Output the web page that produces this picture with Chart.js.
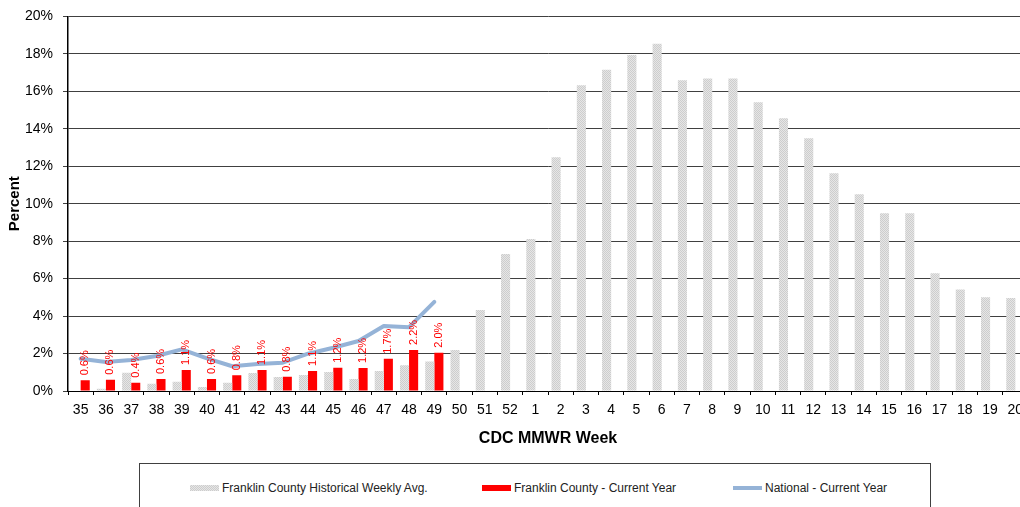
<!DOCTYPE html>
<html lang="en">
<head>
    <meta charset="UTF-8">
    <title>Franklin County ILI by CDC MMWR Week</title>
    <script src="https://cdn.jsdelivr.net/npm/chart.js"></script>
    <style>
        body {
            margin: 0;
            padding: 0;
            background-color: #fff;
            width: 1020px;
            height: 507px;
            overflow: hidden;
            position: relative;
            font-family: "Liberation Sans", Arial, sans-serif;
        }

        #chart {
            position: absolute;
            left: 0;
            top: -2px;
        }

        .legend {
            position: absolute;
            left: 139px;
            top: 463px;
            width: 792px;
            height: 60px;
            border: 1px solid #404040;
            box-sizing: border-box;
        }

        .legend .item {
            position: absolute;
            top: 17px;
            font-size: 12px;
            color: #222;
            white-space: nowrap;
            display: flex;
            align-items: center;
        }

        .legend .swatch {
            display: inline-block;
            width: 29px;
            margin-right: 3px;
        }

        .sw-hist {
            height: 6px;
            background: repeating-conic-gradient(#cdcdcd 0 25%, #e6e6e6 0 50%) 0 0 / 2px 2px;
        }

        .sw-cur {
            height: 6px;
            background: #ff0000;
        }

        .sw-nat {
            height: 4px;
            background: #95b3d7;
        }
    </style>
</head>
<body>
    <canvas id="chart" width="1034" height="458"></canvas>

    <div class="legend">
        <div class="item" style="left: 50px;"><span class="swatch sw-hist"></span>Franklin County Historical Weekly Avg.</div>
        <div class="item" style="left: 342px;"><span class="swatch sw-cur"></span>Franklin County - Current Year</div>
        <div class="item" style="left: 593px;"><span class="swatch sw-nat"></span>National - Current Year</div>
    </div>

    <script>
        // CDC MMWR weeks, week 35 through week 20 of the next year
        const weeks = ['35', '36', '37', '38', '39', '40', '41', '42', '43', '44', '45', '46', '47', '48', '49', '50', '51', '52',
                       '1', '2', '3', '4', '5', '6', '7', '8', '9', '10', '11', '12', '13', '14', '15', '16', '17', '18', '19', '20'];

        // Franklin County historical weekly average (%)
        const historical = [0.0, 0.12, 0.98, 0.39, 0.50, 0.21, 0.44, 0.96, 0.75, 0.85, 1.01, 0.64, 1.07, 1.37, 1.58, 2.19, 4.32, 7.31,
                            8.11, 12.48, 16.32, 17.15, 17.94, 18.54, 16.59, 16.69, 16.69, 15.41, 14.56, 13.49, 11.63, 10.51, 9.49, 9.49, 6.29, 5.42, 5.01, 4.96];

        // Franklin County current year (%), reported through week 49
        const currentYear = [0.57, 0.60, 0.44, 0.64, 1.12, 0.64, 0.84, 1.12, 0.76, 1.07, 1.24, 1.23, 1.72, 2.19, 2.04];

        // National current year (%)
        const national = [1.72, 1.55, 1.65, 1.87, 2.22, 1.74, 1.32, 1.44, 1.51, 1.99, 2.31, 2.67, 3.47, 3.41, 4.76];

        const yTicks = [0, 2, 4, 6, 8, 10, 12, 14, 16, 18, 20];

        const fontFamily = '"Liberation Sans", Arial, sans-serif';

        // dotted light gray fill like the spreadsheet pattern
        function makePattern() {
            const p = document.createElement('canvas');
            p.width = 2;
            p.height = 2;
            const pc = p.getContext('2d');
            pc.fillStyle = '#e6e6e6';
            pc.fillRect(0, 0, 2, 2);
            pc.fillStyle = '#cdcdcd';
            pc.fillRect(0, 0, 1, 1);
            pc.fillRect(1, 1, 1, 1);
            return pc.createPattern(p, 'repeat');
        }

        // vertical red percent labels above the current year bars
        const barLabels = {
            id: 'barLabels',
            afterDatasetsDraw(chart) {
                const ctx = chart.ctx;
                const meta = chart.getDatasetMeta(1);
                ctx.save();
                ctx.fillStyle = '#ff0000';
                ctx.font = '11px ' + fontFamily;
                ctx.textAlign = 'left';
                ctx.textBaseline = 'middle';
                meta.data.forEach((bar, i) => {
                    const v = currentYear[i];
                    if (v == null) return;
                    ctx.save();
                    ctx.translate(bar.x, bar.y - 5);
                    ctx.rotate(-Math.PI / 2);
                    ctx.fillText(v.toFixed(1) + '%', 0, 0);
                    ctx.restore();
                });
                ctx.restore();
            }
        };

        const ctx = document.getElementById('chart').getContext('2d');

        new Chart(ctx, {
            type: 'bar',
            data: {
                labels: weeks,
                datasets: [
                    {
                        label: 'Franklin County Historical Weekly Avg.',
                        data: historical,
                        backgroundColor: makePattern(),
                        categoryPercentage: 0.72,
                        barPercentage: 1.0,
                        order: 2
                    },
                    {
                        label: 'Franklin County - Current Year',
                        data: currentYear,
                        backgroundColor: '#ff0000',
                        categoryPercentage: 0.72,
                        barPercentage: 1.0,
                        order: 2
                    },
                    {
                        type: 'line',
                        label: 'National - Current Year',
                        data: national,
                        borderColor: '#95b3d7',
                        borderWidth: 4,
                        borderCapStyle: 'round',
                        borderJoinStyle: 'round',
                        pointRadius: 0,
                        tension: 0,
                        fill: false,
                        order: 1
                    }
                ]
            },
            options: {
                responsive: false,
                animation: false,
                layout: {
                    padding: { top: 6, right: 6, bottom: 4, left: 0 }
                },
                plugins: {
                    legend: { display: false },
                    tooltip: { enabled: false }
                },
                scales: {
                    x: {
                        grid: {
                            display: true,
                            drawOnChartArea: false,
                            drawTicks: true,
                            tickLength: 4,
                            color: '#000'
                        },
                        border: { color: '#000', width: 1 },
                        ticks: {
                            color: '#000',
                            padding: 7,
                            maxRotation: 0,
                            autoSkip: false,
                            font: { family: fontFamily, size: 14 }
                        },
                        title: {
                            display: true,
                            text: 'CDC MMWR Week',
                            color: '#000',
                            padding: { top: 3, bottom: 4 },
                            font: { family: fontFamily, size: 16, weight: 'bold' }
                        }
                    },
                    y: {
                        min: 0,
                        max: 20,
                        afterBuildTicks(axis) {
                            axis.ticks = yTicks.map(v => ({ value: v }));
                        },
                        grid: {
                            color: '#404040',
                            lineWidth: 1,
                            drawTicks: true,
                            tickLength: 5
                        },
                        border: { color: '#000', width: 1.5 },
                        ticks: {
                            color: '#000',
                            padding: 10,
                            font: { family: fontFamily, size: 14 },
                            callback: function(value) {
                                return value + '%';
                            }
                        },
                        title: {
                            display: true,
                            text: 'Percent',
                            color: '#000',
                            padding: { top: 6, bottom: -9 },
                            font: { family: fontFamily, size: 15, weight: 'bold' }
                        }
                    }
                }
            },
            plugins: [barLabels]
        });
    </script>
</body>
</html>
